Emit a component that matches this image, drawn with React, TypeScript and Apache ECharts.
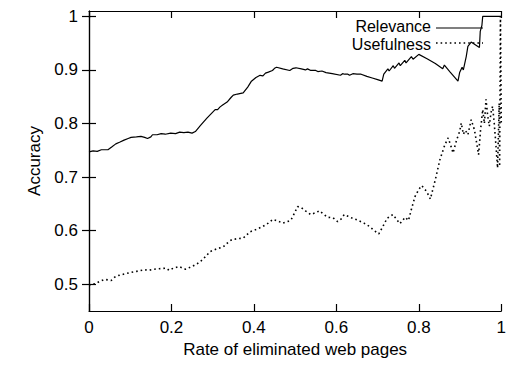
import React, { useEffect, useRef } from "react";
import * as echarts from "echarts";

// Relevance accuracy vs rate of eliminated pages
const relevance: [number, number][] = [
  [0.000, 0.747], [0.010, 0.749], [0.020, 0.748], [0.030, 0.751], [0.046, 0.751], [0.055, 0.756],
  [0.065, 0.762], [0.074, 0.765], [0.085, 0.769], [0.095, 0.772], [0.102, 0.774], [0.115, 0.775],
  [0.126, 0.776], [0.135, 0.774], [0.142, 0.772], [0.150, 0.775], [0.154, 0.779], [0.165, 0.779],
  [0.175, 0.781], [0.185, 0.780], [0.198, 0.782], [0.210, 0.781], [0.220, 0.784], [0.230, 0.783],
  [0.240, 0.784], [0.250, 0.782], [0.258, 0.785], [0.270, 0.796], [0.286, 0.810], [0.296, 0.818],
  [0.306, 0.826], [0.312, 0.826], [0.318, 0.831], [0.325, 0.835], [0.335, 0.840], [0.345, 0.849],
  [0.350, 0.853], [0.360, 0.855], [0.374, 0.857], [0.385, 0.868], [0.394, 0.879], [0.405, 0.886],
  [0.415, 0.890], [0.422, 0.889], [0.428, 0.894], [0.435, 0.896], [0.445, 0.899], [0.450, 0.903],
  [0.455, 0.905], [0.470, 0.902], [0.487, 0.899], [0.495, 0.903], [0.502, 0.904], [0.515, 0.902],
  [0.525, 0.900], [0.530, 0.902], [0.538, 0.899], [0.550, 0.899], [0.555, 0.897], [0.565, 0.898],
  [0.575, 0.895], [0.590, 0.893], [0.610, 0.890], [0.615, 0.893], [0.620, 0.892], [0.628, 0.892],
  [0.632, 0.890], [0.640, 0.893], [0.650, 0.892], [0.660, 0.892], [0.674, 0.888], [0.687, 0.885],
  [0.700, 0.882], [0.711, 0.879], [0.715, 0.892], [0.725, 0.902], [0.728, 0.898], [0.738, 0.908],
  [0.741, 0.903], [0.752, 0.913], [0.755, 0.908], [0.766, 0.918], [0.769, 0.913], [0.782, 0.925],
  [0.786, 0.920], [0.800, 0.929], [0.820, 0.921], [0.840, 0.912], [0.858, 0.902], [0.862, 0.909],
  [0.875, 0.897], [0.895, 0.879], [0.899, 0.895], [0.905, 0.905], [0.908, 0.900], [0.915, 0.925],
  [0.919, 0.944], [0.927, 0.952], [0.935, 0.948], [0.947, 0.942], [0.949, 0.972], [0.953, 0.983],
  [0.955, 1.000], [1.000, 1.000],
];

// Usefulness accuracy vs rate of eliminated pages
const usefulness: [number, number][] = [
  [0.000, 0.498], [0.005, 0.500], [0.015, 0.501], [0.025, 0.505], [0.038, 0.509], [0.054, 0.507],
  [0.062, 0.513], [0.070, 0.516], [0.085, 0.519], [0.102, 0.522], [0.115, 0.524], [0.134, 0.527],
  [0.145, 0.526], [0.158, 0.528], [0.170, 0.529], [0.187, 0.530], [0.194, 0.526], [0.205, 0.530],
  [0.218, 0.533], [0.234, 0.528], [0.250, 0.533], [0.262, 0.538], [0.270, 0.542], [0.282, 0.551],
  [0.294, 0.561], [0.310, 0.566], [0.326, 0.570], [0.336, 0.577], [0.346, 0.583], [0.360, 0.585],
  [0.374, 0.586], [0.391, 0.598], [0.405, 0.602], [0.422, 0.608], [0.435, 0.614], [0.446, 0.621],
  [0.458, 0.618], [0.470, 0.614], [0.482, 0.617], [0.490, 0.620], [0.498, 0.632], [0.506, 0.645],
  [0.515, 0.643], [0.525, 0.637], [0.538, 0.630], [0.548, 0.633], [0.559, 0.637], [0.570, 0.630],
  [0.579, 0.625], [0.592, 0.624], [0.603, 0.617], [0.612, 0.622], [0.619, 0.630], [0.628, 0.627],
  [0.639, 0.623], [0.650, 0.620], [0.667, 0.614], [0.680, 0.608], [0.692, 0.600], [0.703, 0.594],
  [0.713, 0.608], [0.723, 0.623], [0.737, 0.630], [0.745, 0.622], [0.754, 0.613], [0.767, 0.625],
  [0.775, 0.619], [0.782, 0.640], [0.791, 0.664], [0.800, 0.677], [0.807, 0.684], [0.819, 0.673],
  [0.828, 0.659], [0.840, 0.695], [0.851, 0.732], [0.863, 0.760], [0.871, 0.773], [0.877, 0.760],
  [0.883, 0.745], [0.892, 0.770], [0.899, 0.785], [0.903, 0.801], [0.908, 0.780], [0.913, 0.787],
  [0.919, 0.779], [0.927, 0.807], [0.935, 0.788], [0.940, 0.765], [0.945, 0.742], [0.950, 0.790],
  [0.955, 0.826], [0.959, 0.800], [0.963, 0.845], [0.967, 0.815], [0.971, 0.795], [0.975, 0.820],
  [0.979, 0.832], [0.983, 0.800], [0.987, 0.760], [0.991, 0.717], [0.995, 0.838], [0.996, 0.720],
  [0.998, 1.000], [1.000, 0.800],
];

const yTicks = [0.5, 0.6, 0.7, 0.8, 0.9, 1];
const seriesNames = ["Relevance", "Usefulness"];
const xTitle = "Rate of eliminated web pages";
const yTitle = "Accuracy";

const FONT = "Liberation Sans, Arial, Helvetica, sans-serif";
const FS = 17;
const LFS = 16;

export default function App() {
  const ref = useRef<HTMLDivElement>(null);
  useEffect(() => {
    if (!ref.current) return;
    const chart = echarts.init(ref.current, undefined, { renderer: "svg" });
    const axisLine = { show: true, lineStyle: { color: "#000", width: 1.2 } };
    const tick = { show: true, inside: true, length: 7, lineStyle: { color: "#000", width: 1.2 } };
    const label = { color: "#000", fontSize: FS, fontFamily: FONT };
    chart.setOption({
      animation: false,
      backgroundColor: "#fff",
      grid: { left: 89, right: 3, top: 11, bottom: 55, containLabel: false },
      xAxis: [
        {
          type: "value", min: 0, max: 1, interval: 0.2, position: "bottom",
          axisLine, axisTick: tick, splitLine: { show: false },
          axisLabel: { ...label, margin: 8 },
          name: xTitle, nameLocation: "middle", nameGap: 30,
          nameTextStyle: { ...label },
        },
        {
          type: "value", min: 0, max: 1, interval: 0.2, position: "top",
          axisLine, axisTick: tick, splitLine: { show: false },
          axisLabel: { show: false },
        },
      ],
      yAxis: [
        {
          type: "value", min: 0.45, max: 1.01, position: "left",
          axisLine, splitLine: { show: false },
          axisTick: { ...tick, customValues: yTicks },
          axisLabel: { ...label, margin: 11, customValues: yTicks },
          name: yTitle, nameLocation: "middle", nameGap: 38, nameRotate: 90,
          nameTextStyle: { ...label },
        },
        {
          type: "value", min: 0.45, max: 1.01, position: "right",
          axisLine, splitLine: { show: false },
          axisTick: { ...tick, customValues: yTicks },
          axisLabel: { show: false },
        },
      ],
      series: [
        {
          name: seriesNames[0], type: "line", data: relevance, symbol: "none",
          lineStyle: { color: "#000", width: 1.2 },
        },
        {
          name: seriesNames[1], type: "line", data: usefulness, symbol: "none",
          lineStyle: { color: "#000", width: 1.6, type: [1.6, 3] },
        },
      ],
      graphic: [
        { type: "text", x: 431, y: 26, style: { text: seriesNames[0], fill: "#000", font: `${LFS}px ${FONT}`, textAlign: "right", textVerticalAlign: "middle" } },
        { type: "line", shape: { x1: 436, y1: 28, x2: 483, y2: 28 }, style: { stroke: "#000", lineWidth: 1.2 } },
        { type: "text", x: 431, y: 44, style: { text: seriesNames[1], fill: "#000", font: `${LFS}px ${FONT}`, textAlign: "right", textVerticalAlign: "middle" } },
        { type: "line", shape: { x1: 436, y1: 43, x2: 483, y2: 43 }, style: { stroke: "#000", lineWidth: 1.6, lineDash: [1.6, 3] } },
      ],
    });
    return () => chart.dispose();
  }, []);
  return <div ref={ref} style={{ position: "fixed", left: 0, top: 0, width: 509, height: 366 }} />;
}
